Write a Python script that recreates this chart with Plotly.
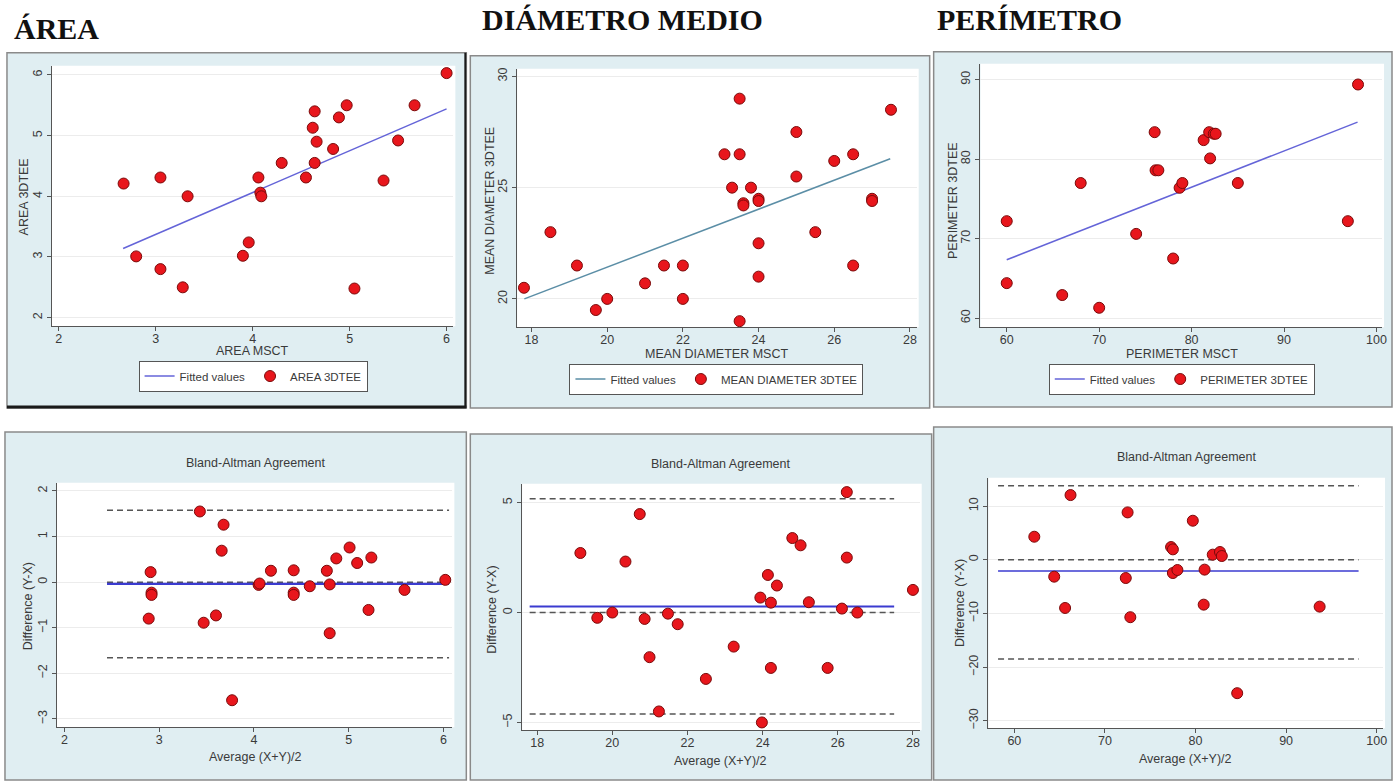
import plotly.graph_objects as go

W, H = 1400, 781

# ---------------- data ----------------
section_titles = ["ÁREA", "DIÁMETRO MEDIO", "PERÍMETRO"]

area_msct = [2.67, 2.80, 3.05, 3.05, 3.28, 3.33, 3.90, 3.96, 4.06, 4.08, 4.09, 4.30, 4.55,
             4.62, 4.64, 4.66, 4.64, 4.83, 4.89, 4.97, 5.05, 5.35, 5.50, 5.67, 6.00]
area_3dtee = [4.21, 3.01, 4.31, 2.80, 2.50, 4.00, 3.02, 3.24, 4.31, 4.06, 4.00, 4.55, 4.31,
              5.13, 5.40, 4.90, 4.55, 4.78, 5.30, 5.50, 2.48, 4.26, 4.92, 5.50, 6.03]
area_fit_x = [2.665, 6.0]
area_fit_y = [3.14, 5.44]

diam_msct = [17.8, 18.5, 19.2, 19.7, 20.0, 21.0, 21.5, 22.0, 22.0, 23.1, 23.3, 23.5, 23.5, 23.5,
             23.6, 23.6, 23.8, 24.0, 24.0, 24.0, 24.0, 25.0, 25.0, 25.5, 26.0, 26.5, 26.5, 27.0,
             27.0, 27.5]
diam_3dtee = [20.5, 23.0, 21.5, 19.5, 20.0, 20.7, 21.5, 21.5, 20.0, 26.5, 25.0, 29.0, 26.5, 19.0,
              24.3, 24.2, 25.0, 24.5, 24.4, 22.5, 21.0, 27.5, 25.5, 23.0, 26.2, 26.5, 21.5, 24.5,
              24.4, 28.5]
diam_fit_x = [17.81, 27.48]
diam_fit_y = [20.0, 26.3]

perim_msct = [60, 60, 66, 68, 70, 74, 76, 76.1, 76.4, 78, 78.7, 79, 81.3, 81.9, 82, 82.4, 82.6,
              85, 96.9, 98]
perim_3dtee = [72.2, 64.4, 62.9, 77.0, 61.3, 70.6, 83.4, 78.6, 78.6, 67.5, 76.4, 77.0, 82.4, 83.4,
               80.1, 83.2, 83.2, 77.0, 72.2, 89.4]
perim_fit_x = [60.0, 97.95]
perim_fit_y = [67.34, 84.67]

ba_area_avg = [2.89, 2.91, 2.92, 2.92, 3.43, 3.47, 3.60, 3.66, 3.68, 3.77, 4.05, 4.06, 4.18, 4.42,
               4.42, 4.42, 4.59, 4.77, 4.80, 4.80, 4.87, 5.01, 5.09, 5.21, 5.24, 5.59, 6.02]
ba_area_diff = [-0.80, 0.22, -0.23, -0.28, 1.55, -0.89, -0.73, 0.69, 1.26, -2.59, -0.06, -0.03,
                0.25, 0.26, -0.23, -0.28, -0.09, 0.25, -0.05, -1.12, 0.52, 0.76, 0.42, -0.61,
                0.54, -0.17, 0.05]
ba_area_span = [2.45, 6.06]
ba_area_mean, ba_area_upper, ba_area_lower = -0.04, 1.575, -1.66

ba_diam_avg = [19.15, 19.60, 20.0, 20.35, 20.73, 20.86, 20.99, 21.24, 21.48, 21.74, 22.49, 23.23,
               23.94, 23.98, 24.14, 24.22, 24.22, 24.38, 24.79, 25.01, 25.23, 25.73, 26.11, 26.24,
               26.24, 26.52, 28.0]
ba_diam_diff = [2.71, -0.24, 0.0, 2.32, 4.48, -0.29, -2.03, -4.5, -0.05, -0.53, -3.02, -1.55, 0.68,
                -5.0, 1.71, 0.45, -2.52, 1.23, 3.39, 3.06, 0.47, -2.52, 0.18, 5.48, 2.5, 0.0, 1.03]
ba_diam_span = [17.8, 27.5]
ba_diam_mean, ba_diam_upper, ba_diam_lower = 0.28, 5.18, -4.62

ba_perim_avg = [62.2, 64.4, 65.6, 66.2, 72.3, 72.5, 72.8, 77.3, 77.5, 77.5, 78.0, 79.7, 80.9, 81.0,
                81.9, 82.7, 82.9, 84.6, 93.7]
ba_perim_diff = [4.29, -3.15, -8.98, 12.05, -3.40, 8.82, -10.7, 2.37, 1.94, -2.47, -1.91, 7.27,
                 -8.36, -1.84, 0.95, 1.44, 0.70, -24.85, -8.73]
ba_perim_span = [58.2, 98.0]
ba_perim_mean, ba_perim_upper, ba_perim_lower = -2.1, 13.8, -18.5

# ---------------- styling ----------------
FONT = "Liberation Sans, Arial, sans-serif"
TXT = "#3a3a3a"
RED = "#e8161c"
RED_EDGE = "#7a0a0a"
PANEL_BG = "#e0eef2"


def fx(p):
    return p / W


def fy(p):
    return 1 - p / H


fig = go.Figure()

# plot area pixel boxes: (x0, x1, y0, y1), axis ranges, ticks
panels = [
    dict(box=(52, 455, 65, 326), xr=[1.93, 6.07], yr=[1.86, 6.15],
         xt=[2, 3, 4, 5, 6], yt=[2, 3, 4, 5, 6], xtitle="AREA MSCT", ytitle="AREA 3DTEE",
         xtpos=(253, 351), ytpos=(25, 196)),
    dict(box=(519, 920, 68, 327), xr=[17.62, 28.18], yr=[18.73, 30.34],
         xt=[18, 20, 22, 24, 26, 28], yt=[20, 25, 30], xtitle="MEAN DIAMETER MSCT",
         ytitle="MEAN DIAMETER 3DTEE", xtpos=(719, 354), ytpos=(492, 200)),
    dict(box=(984, 1387, 63, 327), xr=[57.16, 100.6], yr=[58.86, 92.0],
         xt=[60, 70, 80, 90, 100], yt=[60, 70, 80, 90], xtitle="PERIMETER MSCT",
         ytitle="PERIMETER 3DTEE", xtpos=(1186, 354), ytpos=(957, 200)),
    dict(box=(57, 454, 483, 728), xr=[1.92, 6.095], yr=[-3.18, 2.18],
         xt=[2, 3, 4, 5, 6], yt=[-3, -2, -1, 0, 1, 2], xtitle="Average (X+Y)/2",
         ytitle="Difference (Y-X)", xtpos=(256, 758), ytpos=(29, 607)),
    dict(box=(524, 923, 484, 731), xr=[17.6, 28.18], yr=[-5.35, 5.86],
         xt=[18, 20, 22, 24, 26, 28], yt=[-5, 0, 5], xtitle="Average (X+Y)/2",
         ytitle="Difference (Y-X)", xtpos=(723, 762), ytpos=(494, 610)),
    dict(box=(992, 1388, 478, 729), xr=[57.14, 100.7], yr=[-31.36, 15.27],
         xt=[60, 70, 80, 90, 100], yt=[-30, -20, -10, 0, 10], xtitle="Average (X+Y)/2",
         ytitle="Difference (Y-X)", xtpos=(1190, 760), ytpos=(964, 604)),
]

layout_axes = {}
for i, p in enumerate(panels, start=1):
    x0, x1, y0, y1 = p["box"]
    xa = "xaxis" if i == 1 else f"xaxis{i}"
    ya = "yaxis" if i == 1 else f"yaxis{i}"
    yanchor = "x" if i == 1 else f"x{i}"
    xanchor = "y" if i == 1 else f"y{i}"
    common = dict(showline=True, linecolor="#555", linewidth=1, ticks="outside", ticklen=4,
                  tickcolor="#555", tickfont=dict(family=FONT, size=12.5, color=TXT),
                  zeroline=False, mirror=False)
    layout_axes[xa] = dict(domain=[fx(x0), fx(x1)], range=p["xr"], anchor=xanchor,
                           tickvals=p["xt"], showgrid=False, ticklabelstandoff=-3, **common)
    layout_axes[ya] = dict(domain=[fy(y1), fy(y0)], range=p["yr"], anchor=yanchor,
                           tickvals=p["yt"], tickangle=-90, showgrid=True, gridcolor="#ececec",
                           gridwidth=1, **common)


def ax(i):
    return ("x" if i == 1 else f"x{i}"), ("y" if i == 1 else f"y{i}")


marker = dict(color=RED, size=11, line=dict(color=RED_EDGE, width=1))

# scatter panels
scatter_sets = [
    (area_msct, area_3dtee, area_fit_x, area_fit_y, "AREA 3DTEE", "#6464d8", "legend"),
    (diam_msct, diam_3dtee, diam_fit_x, diam_fit_y, "MEAN DIAMETER 3DTEE", "#5b8ea6", "legend2"),
    (perim_msct, perim_3dtee, perim_fit_x, perim_fit_y, "PERIMETER 3DTEE", "#6464d8", "legend3"),
]
for i, (xs, ys, fxs, fys, name, lc, lg) in enumerate(scatter_sets, start=1):
    xa, ya = ax(i)
    fig.add_trace(go.Scatter(x=fxs, y=fys, mode="lines", name="Fitted values",
                             line=dict(color=lc, width=1.5), xaxis=xa, yaxis=ya, legend=lg))
    fig.add_trace(go.Scatter(x=xs, y=ys, mode="markers", name=name, marker=marker,
                             xaxis=xa, yaxis=ya, legend=lg))

# Bland-Altman panels
ba_sets = [
    (ba_area_avg, ba_area_diff, ba_area_span, ba_area_mean, ba_area_upper, ba_area_lower, 2.2),
    (ba_diam_avg, ba_diam_diff, ba_diam_span, ba_diam_mean, ba_diam_upper, ba_diam_lower, 2.0),
    (ba_perim_avg, ba_perim_diff, ba_perim_span, ba_perim_mean, ba_perim_upper, ba_perim_lower, 1.5),
]
for k, (xs, ys, span, mean, up, lo, mw) in enumerate(ba_sets, start=4):
    xa, ya = ax(k)
    for lvl in (up, lo, 0):
        fig.add_trace(go.Scatter(x=span, y=[lvl, lvl], mode="lines", showlegend=False,
                                 line=dict(color="#555555", width=1.5, dash="6px,4px"),
                                 xaxis=xa, yaxis=ya, hoverinfo="skip"))
    fig.add_trace(go.Scatter(x=span, y=[mean, mean], mode="lines", showlegend=False,
                             line=dict(color="#3b3bd0", width=mw), xaxis=xa, yaxis=ya))
    fig.add_trace(go.Scatter(x=xs, y=ys, mode="markers", showlegend=False, marker=marker,
                             xaxis=xa, yaxis=ya))

# panel background frames
frames = [(7, 468, 52, 408), (472, 933, 55, 408), (937, 1397, 51, 407),
          (5, 468, 432, 781), (472, 935, 434, 781), (937, 1397, 427, 781)]
shapes = []
for (x0, x1, y0, y1) in frames:
    shapes.append(dict(type="rect", xref="paper", yref="paper", x0=fx(x0), x1=fx(x1),
                       y0=fy(y1), y1=fy(y0), fillcolor=PANEL_BG,
                       line=dict(color="#8a8a8a", width=1.5), layer="below"))
# white plot regions
for p in panels:
    x0, x1, y0, y1 = p["box"]
    shapes.append(dict(type="rect", xref="paper", yref="paper", x0=fx(x0), x1=fx(x1 + 2),
                       y0=fy(y1), y1=fy(y0), fillcolor="white", line=dict(width=0),
                       layer="below"))
# darker shadow edges on first panel
shapes.append(dict(type="line", xref="paper", yref="paper", x0=fx(7), x1=fx(468), y0=fy(407),
                   y1=fy(407), line=dict(color="#1a1a1a", width=3)))
shapes.append(dict(type="line", xref="paper", yref="paper", x0=fx(467), x1=fx(467), y0=fy(52),
                   y1=fy(408), line=dict(color="#1a1a1a", width=2)))

annotations = []
title_pos = [(12, 28), (482, 19), (938, 19)]
for t, (x, y) in zip(section_titles, title_pos):
    annotations.append(dict(text=f"<b>{t}</b>", xref="paper", yref="paper", x=fx(x), y=fy(y),
                            xanchor="left", yanchor="middle", showarrow=False,
                            font=dict(family="Liberation Serif, Times New Roman, serif",
                                      size=30, color="#111")))
ba_title_pos = [(256, 463), (723, 464), (1191, 457)]
for (x, y) in ba_title_pos:
    annotations.append(dict(text="Bland-Altman Agreement", xref="paper", yref="paper",
                            x=fx(x), y=fy(y), xanchor="center", yanchor="middle",
                            showarrow=False, font=dict(family=FONT, size=12.5, color=TXT)))
# axis titles
for p in panels:
    xx, xy = p["xtpos"]
    annotations.append(dict(text=p["xtitle"], xref="paper", yref="paper", x=fx(xx), y=fy(xy),
                            xanchor="center", yanchor="middle", showarrow=False,
                            font=dict(family=FONT, size=12.5, color=TXT)))
    yx, yy = p["ytpos"]
    annotations.append(dict(text=p["ytitle"], xref="paper", yref="paper", x=fx(yx), y=fy(yy),
                            xanchor="center", yanchor="middle", showarrow=False, textangle=-90,
                            font=dict(family=FONT, size=12.5, color=TXT)))

legend_common = dict(orientation="h", xanchor="center", yanchor="middle", bgcolor="white",
                     bordercolor="#555", borderwidth=1, itemwidth=30,
                     font=dict(family=FONT, size=11.5, color=TXT), tracegroupgap=0)

fig.update_layout(
    width=W, height=H, autosize=False,
    margin=dict(l=0, r=0, t=0, b=0),
    paper_bgcolor="white", plot_bgcolor="white",
    shapes=shapes, annotations=annotations,
    legend=dict(x=fx(254), y=fy(376), **legend_common),
    legend2=dict(x=fx(719), y=fy(379), **legend_common),
    legend3=dict(x=fx(1186), y=fy(379), **legend_common),
    **layout_axes,
)

fig.write_html("out.html", config={"displayModeBar": False},
               post_script="document.body.style.margin='0px';"
                           "document.body.style.overflow='hidden';")
